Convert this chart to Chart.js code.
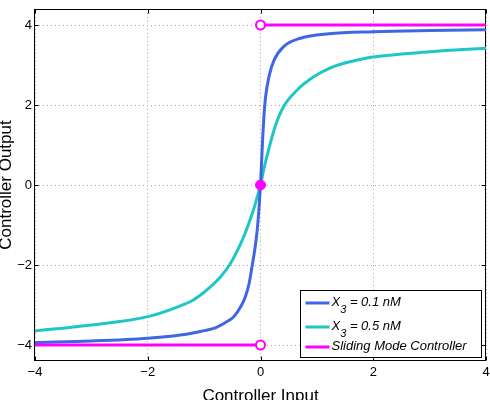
<!DOCTYPE html>
<html>
<head>
<meta charset="utf-8">
<script src="https://cdn.jsdelivr.net/npm/chart.js@4.4.0/dist/chart.umd.min.js"></script>
<style>
html, body { margin: 0; padding: 0; background: #fff; }
canvas { display: block; }
</style>
</head>
<body>
<canvas id="chart" width="490" height="400"></canvas>
<script>
// 軸の目盛り
const xTicks = [-4, -2, 0, 2, 4];
const yTicks = [-4, -2, 0, 2, 4];

// X3 = 0.1 nM
const blueX = [-4, -3, -2, -1.42, -1.2, -1, -0.8, -0.6, -0.47, -0.35, -0.27, -0.2, -0.15, -0.1, -0.06, -0.03, -0.015, 0,
               0.02, 0.04, 0.06, 0.09, 0.15, 0.24, 0.41, 0.71, 1.21, 2, 3, 4];
const blueY = [-3.94, -3.9, -3.83, -3.75, -3.7, -3.64, -3.57, -3.42, -3.29, -3.04, -2.8, -2.45, -2.04, -1.6, -1.15, -0.65, -0.33, 0,
               0.6, 1.2, 1.7, 2.2, 2.71, 3.12, 3.46, 3.67, 3.78, 3.83, 3.86, 3.88];

// X3 = 0.5 nM
const tealX = [-4, -3, -2, -1.42, -1.2, -1, -0.9, -0.8, -0.7, -0.6, -0.5, -0.4, -0.3, -0.2, -0.12, -0.06, 0,
               0.06, 0.12, 0.26, 0.41, 0.65, 0.95, 1.24, 1.42, 1.7, 2, 3, 4];
const tealY = [-3.65, -3.5, -3.29, -3.02, -2.88, -2.68, -2.56, -2.43, -2.28, -2.1, -1.88, -1.61, -1.3, -0.93, -0.6, -0.31, 0,
               0.4, 0.75, 1.46, 1.96, 2.375, 2.71, 2.93, 3.02, 3.12, 3.2, 3.33, 3.42];

// スライディングモード制御（x=0で不連続）
const smcX = [-4, 0, NaN, 0, 4];
const smcY = [-4, -4, NaN, 4, 4];
const openX = [0, 0];
const openY = [4, -4];
const dotX = [0];
const dotY = [0];

const seriesLabels = ['X_3 = 0.1 nM', 'X_3 = 0.5 nM', 'Sliding Mode Controller'];
const seriesColors = ['#3f67e4', '#1ec6c6', '#ff00ff'];

const toPoints = (xs, ys) => xs.map((x, i) => ({ x: x, y: ys[i] }));
const fmt = v => (v < 0 ? '\u2212' + Math.abs(v) : String(v));

Chart.defaults.font.family = '"Liberation Sans", Arial, Helvetica, sans-serif';
Chart.defaults.color = '#000';

// 枠線と内向きの目盛り
const framePlugin = {
    id: 'frame',
    beforeDatasetsDraw(chart) {
        const { ctx, chartArea: a, scales } = chart;
        ctx.save();
        ctx.strokeStyle = '#000';
        ctx.lineWidth = 1;
        const l = Math.round(a.left) - 0.5, r = Math.round(a.right) - 0.5;
        const t = Math.round(a.top) + 0.5, b = Math.round(a.bottom) - 0.5;
        ctx.strokeRect(l, t, r - l, b - t);
        ctx.beginPath();
        xTicks.forEach(v => {
            const px = Math.round(scales.x.getPixelForValue(v)) + 0.5;
            ctx.moveTo(px, b); ctx.lineTo(px, b - 4);
            ctx.moveTo(px, t); ctx.lineTo(px, t + 4);
        });
        yTicks.forEach(v => {
            const py = Math.round(scales.y.getPixelForValue(v)) + 0.5;
            ctx.moveTo(l, py); ctx.lineTo(l + 4, py);
            ctx.moveTo(r, py); ctx.lineTo(r - 4, py);
        });
        ctx.stroke();
        ctx.restore();
    }
};

// 図の中の凡例（右下）
const legendPlugin = {
    id: 'insideLegend',
    afterDraw(chart) {
        const { ctx, chartArea: a } = chart;
        const boxW = 181, boxH = 67;
        const bx = Math.round(a.right) - 185.5, by = Math.round(a.bottom) - 70.5;
        ctx.save();
        ctx.fillStyle = '#fff';
        ctx.fillRect(bx, by, boxW, boxH);
        ctx.strokeStyle = '#000';
        ctx.lineWidth = 1;
        ctx.strokeRect(bx, by, boxW, boxH);
        const rows = [12.5, 36.5, 56.5];
        const fam = Chart.defaults.font.family;
        seriesLabels.forEach((label, i) => {
            const y = by + rows[i];
            ctx.strokeStyle = seriesColors[i];
            ctx.lineWidth = 3;
            ctx.beginPath();
            ctx.moveTo(bx + 5, y);
            ctx.lineTo(bx + 29, y);
            ctx.stroke();
            ctx.fillStyle = '#000';
            ctx.textBaseline = 'alphabetic';
            ctx.textAlign = 'left';
            const base = y + 3;
            let x = bx + 31;
            const m = label.match(/^(.*?)_(\S)(.*)$/);
            if (m) {
                ctx.font = 'italic 13px ' + fam;
                ctx.fillText(m[1], x, base);
                x += ctx.measureText(m[1]).width;
                ctx.font = 'italic 11px ' + fam;
                ctx.fillText(m[2], x, base + 6.5);
                x += ctx.measureText(m[2]).width;
                ctx.font = 'italic 13px ' + fam;
                ctx.fillText(m[3], x, base);
            } else {
                ctx.font = 'italic 13px ' + fam;
                ctx.fillText(label, x, base);
            }
        });
        ctx.restore();
    }
};

const lineStyle = (color, smooth) => ({
    borderColor: color,
    backgroundColor: color,
    borderWidth: 3,
    pointRadius: 0,
    showLine: true,
    fill: false,
    cubicInterpolationMode: smooth ? 'monotone' : 'default',
    tension: 0,
    spanGaps: false
});

// ラベル由来の余白を消して描画領域を固定する
const noPad = s => { s.paddingTop = 0; s.paddingBottom = 0; s.paddingLeft = 0; s.paddingRight = 0; };

const ctx = document.getElementById('chart').getContext('2d');
new Chart(ctx, {
    type: 'scatter',
    data: {
        datasets: [
            {
                label: 'open',
                data: toPoints(openX, openY),
                showLine: false,
                pointRadius: 4.5,
                pointBorderWidth: 2,
                pointBorderColor: '#ff00ff',
                pointBackgroundColor: '#fff',
                order: 0
            },
            {
                label: 'dot',
                data: toPoints(dotX, dotY),
                showLine: false,
                pointRadius: 5,
                pointBorderWidth: 1,
                pointBorderColor: '#ff00ff',
                pointBackgroundColor: '#ff00ff',
                order: 0
            },
            Object.assign({ label: seriesLabels[2], data: toPoints(smcX, smcY), order: 1 }, lineStyle(seriesColors[2], false)),
            Object.assign({ label: seriesLabels[0], data: toPoints(blueX, blueY), order: 2 }, lineStyle(seriesColors[0], true)),
            Object.assign({ label: seriesLabels[1], data: toPoints(tealX, tealY), order: 3 }, lineStyle(seriesColors[1], true))
        ]
    },
    options: {
        responsive: false,
        animation: false,
        devicePixelRatio: 1,
        layout: { autoPadding: false, padding: { top: 9, right: 4, left: 0, bottom: 0 } },
        plugins: {
            legend: { display: false },
            tooltip: { enabled: false }
        },
        scales: {
            x: {
                type: 'linear',
                min: -4,
                max: 4,
                afterBuildTicks: s => { s.ticks = xTicks.map(v => ({ value: v })); },
                afterFit: s => { s.height = 39; noPad(s); },
                ticks: { callback: fmt, font: { size: 13 }, padding: 4, maxRotation: 0, color: '#000' },
                grid: { color: '#a8a8a8', lineWidth: 1, drawTicks: false },
                border: { display: false, dash: [1, 3] },
                title: {
                    display: true,
                    text: 'Controller Input',
                    font: { size: 17, lineHeight: 1 },
                    padding: { top: 0, bottom: -4.5 },
                    color: '#000'
                }
            },
            y: {
                type: 'linear',
                min: -4.4,
                max: 4.4,
                afterBuildTicks: s => { s.ticks = yTicks.map(v => ({ value: v })); },
                afterFit: s => { s.width = 35; noPad(s); },
                ticks: { callback: fmt, font: { size: 13 }, padding: 3, color: '#000' },
                grid: { color: '#a8a8a8', lineWidth: 1, drawTicks: false },
                border: { display: false, dash: [1, 3] },
                title: {
                    display: true,
                    text: 'Controller Output',
                    font: { size: 17, lineHeight: 1 },
                    padding: { top: -2, bottom: 0 },
                    color: '#000'
                }
            }
        }
    },
    plugins: [framePlugin, legendPlugin]
});
</script>
</body>
</html>
